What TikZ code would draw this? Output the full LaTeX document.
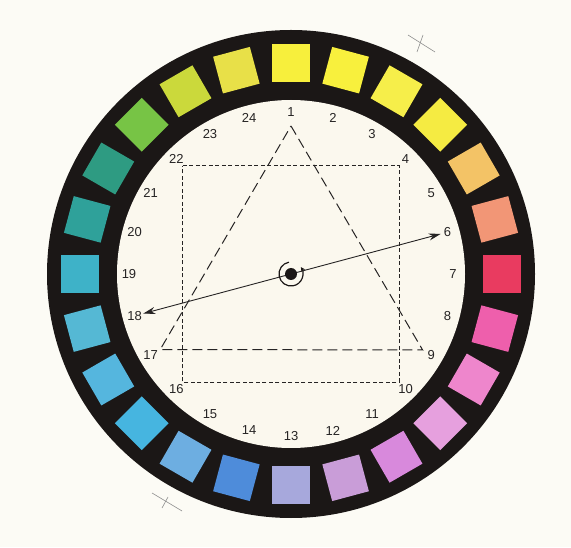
\documentclass[tikz,border=0pt]{standalone}
\usepackage{fontspec}
\setmainfont{Liberation Sans}
\usetikzlibrary{arrows.meta}

\definecolor{bgcream}{HTML}{FCFBF5}
\definecolor{diskwhite}{HTML}{FBF8EE}
\definecolor{ringblack}{HTML}{1B1716}
\definecolor{inkgray}{HTML}{262424}
\definecolor{reggray}{HTML}{8E8E8E}
% 色块
\definecolor{c1}{HTML}{F7EF3C}
\definecolor{c2}{HTML}{F8F03D}
\definecolor{c3}{HTML}{F6EE4A}
\definecolor{c4}{HTML}{F5EB42}
\definecolor{c5}{HTML}{F3C366}
\definecolor{c6}{HTML}{F29676}
\definecolor{c7}{HTML}{E93B60}
\definecolor{c8}{HTML}{EE5FAC}
\definecolor{c9}{HTML}{EE86CC}
\definecolor{c10}{HTML}{E6A0DE}
\definecolor{c11}{HTML}{D889DC}
\definecolor{c12}{HTML}{C99DD8}
\definecolor{c13}{HTML}{A7A8DC}
\definecolor{c14}{HTML}{4E8CDA}
\definecolor{c15}{HTML}{6DAEE1}
\definecolor{c16}{HTML}{46B5E0}
\definecolor{c17}{HTML}{55B6DE}
\definecolor{c18}{HTML}{55B8D4}
\definecolor{c19}{HTML}{3EB2C8}
\definecolor{c20}{HTML}{2FA19A}
\definecolor{c21}{HTML}{2E9B82}
\definecolor{c22}{HTML}{77C445}
\definecolor{c23}{HTML}{CBD93B}
\definecolor{c24}{HTML}{E8E048}

\begin{document}
\begin{tikzpicture}[x=1pt,y=1pt,
    >={Stealth[length=12pt,width=7pt]},
    swatch/.style={minimum size=38pt,inner sep=0pt,draw=none},
    num/.style={font=\fontsize{13}{13}\selectfont,text=inkgray,inner sep=0pt},
    tri/.style={draw=inkgray,line width=1pt,dash pattern=on 10pt off 5pt},
    quad/.style={draw=inkgray,line width=1pt,dash pattern=on 4pt off 2.5pt},
    regline/.style={draw=reggray,line width=0.6pt}]

                % ===== 背景 =====
                \fill[bgcream] (0,0) rectangle (571,547);
                \useasboundingbox (0,0) rectangle (571,547);
                \coordinate (O) at (291,273);

                % ===== 黑色圆环 =====
                \fill[ringblack] (O) circle (244);
                \fill[diskwhite] (O) circle (174);

                % ===== 色块与编号 =====
                \foreach \k in {1,...,24} {
                    \pgfmathsetmacro\ang{105-15*\k}
                    \node[swatch,fill=c\k,rotate=\ang] (s\k) at ([shift={(\ang:211)}]O) {};
                    \node[num] (l\k) at ([shift={(\ang:162)}]O) {\k};
                }

                % ===== 三角形 1-9-17 =====
                \coordinate (t1) at ([shift={(90:148)}]O);
                \coordinate (t9) at ([shift={(-30:152)}]O);
                \coordinate (t17) at ([shift={(210:151)}]O);
                \draw[tri] (t1) -- (t9) -- (t17) -- cycle;

                % ===== 正方形 22-4-10-16 =====
                \coordinate (q22) at ([shift={(135:153)}]O);
                \coordinate (q4) at ([shift={(45:153)}]O);
                \coordinate (q10) at ([shift={(-45:153)}]O);
                \coordinate (q16) at ([shift={(-135:153)}]O);
                \draw[quad] (q22) -- (q4) -- (q10) -- (q16) -- cycle;

                % ===== 补色箭头 18 <-> 6 =====
                \coordinate (a6) at ([shift={(15:155)}]O);
                \coordinate (a18) at ([shift={(195:153)}]O);
                \draw[inkgray,line width=0.9pt,<->] (a18) -- (a6);

                % ===== 中心转轴 =====
                \node[circle,fill=ringblack,minimum size=12pt,inner sep=0pt] (hub) at (O) {};
                \draw[ringblack,line width=1.2pt,-{Stealth[length=4.5pt,width=4.5pt]}]
                ([shift={(100:12)}]O) arc[start angle=100,end angle=395,radius=12];

                % ===== 定位十字 =====
                \draw[regline] (408,512) -- (435,495);
                \draw[regline] (423,512) -- (417,495);
                \draw[regline] (152,54) -- (182,36);
                \draw[regline] (168,50) -- (162,39);

\end{tikzpicture}
\end{document}
